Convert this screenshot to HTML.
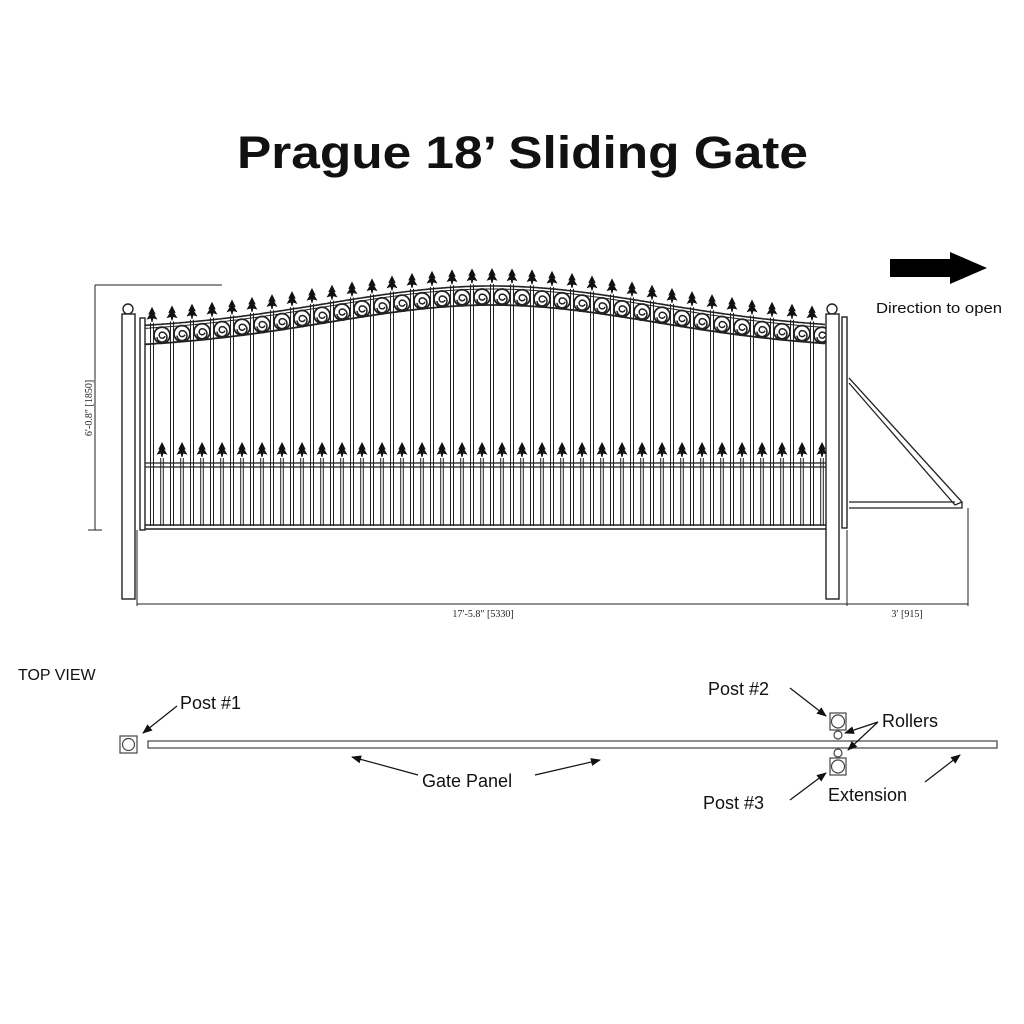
<!DOCTYPE html>
<html><head><meta charset="utf-8"><style>
html,body{margin:0;padding:0;background:#fff;width:1024px;height:1024px;overflow:hidden}
svg{display:block}
</style></head><body>
<svg id="s" width="1024" height="1024" viewBox="0 0 1024 1024" xmlns="http://www.w3.org/2000/svg">
<defs>
<marker id="ah" markerWidth="10" markerHeight="8" refX="9" refY="4" orient="auto" markerUnits="userSpaceOnUse">
<path d="M0,0 L10,4 L0,8 Z" fill="#111"/></marker>
</defs>
<text x="237" y="168" textLength="571" lengthAdjust="spacingAndGlyphs" font-family="Liberation Sans, sans-serif" font-weight="bold" font-size="45" fill="#111">Prague 18’ Sliding Gate</text>
<!-- arrow -->
<path d="M890,259 L950,259 L950,252 L987,268 L950,284 L950,277 L890,277 Z" fill="#000"/>
<text x="876" y="313" textLength="126" lengthAdjust="spacingAndGlyphs" font-family="Liberation Sans, sans-serif" font-size="14.5" fill="#111">Direction to open</text>
<g id="gate" stroke="#222" fill="none" stroke-width="1.3"></g>
<!-- posts -->
<g stroke="#222" fill="#fff" stroke-width="1.4">
<circle cx="128" cy="309" r="5"/>
<rect x="122" y="314" width="13" height="285"/>
<rect x="140" y="318" width="5" height="212"/>
<circle cx="832" cy="309" r="5"/>
<rect x="826" y="314" width="13" height="285"/>
<rect x="842" y="317" width="5" height="211"/>
</g>
<g stroke="#222" fill="none" stroke-width="1.3">
<path d="M849,378 L962,502 L955,505 L849,383"/>
<path d="M849,502 L955,502 M849,508 L962,508 L962,502"/>
<path d="M95,285 L222,285 M95,285 L95,530 M88,530 L102,530" stroke-width="1"/>
<path d="M137,530 L137,606 M137,604 L968,604 M847,530 L847,606 M968,508 L968,606" stroke-width="1"/>
</g>
<text transform="translate(92,408) rotate(-90)" text-anchor="middle" font-family="Liberation Serif, serif" font-size="10" fill="#222">6′-0.8″ [1850]</text>
<text x="483" y="617" text-anchor="middle" font-family="Liberation Serif, serif" font-size="10" fill="#222">17′-5.8″ [5330]</text>
<text x="907" y="617" text-anchor="middle" font-family="Liberation Serif, serif" font-size="10" fill="#222">3′ [915]</text>
<!-- top view -->
<g font-family="Liberation Sans, DejaVu Sans, sans-serif" font-size="18" fill="#111">
<text x="18" y="680" font-size="16">TOP  VIEW</text>
<text x="180" y="709">Post #1</text>
<text x="422" y="787">Gate Panel</text>
<text x="708" y="695">Post #2</text>
<text x="882" y="727">Rollers</text>
<text x="703" y="809">Post #3</text>
<text x="828" y="801">Extension</text>
</g>
<g stroke="#444" fill="#fff" stroke-width="1.2">
<rect x="120" y="736" width="17" height="17"/><circle cx="128.5" cy="744.5" r="6"/>
<rect x="148" y="741" width="849" height="7"/>
<rect x="830" y="713" width="16" height="17"/><circle cx="838" cy="721.5" r="6.5"/>
<circle cx="838" cy="735" r="4"/><circle cx="838" cy="753" r="4"/>
<rect x="830" y="758" width="16" height="17"/><circle cx="838" cy="766.5" r="6.5"/>
</g>
<g stroke="#111" stroke-width="1.2" marker-end="url(#ah)">
<line x1="177" y1="706" x2="143" y2="733"/>
<line x1="418" y1="775" x2="352" y2="757"/>
<line x1="535" y1="775" x2="600" y2="760"/>
<line x1="790" y1="688" x2="826" y2="716"/>
<line x1="878" y1="722" x2="845" y2="733"/>
<line x1="878" y1="722" x2="848" y2="750"/>
<line x1="790" y1="800" x2="826" y2="773"/>
<line x1="925" y1="782" x2="960" y2="755"/>
</g>
</svg>
<script>
(function(){
var g=document.getElementById('gate');var NS='http://www.w3.org/2000/svg';
function el(t,a,p){var e=document.createElementNS(NS,t);for(var k in a)e.setAttribute(k,a[k]);(p||g).appendChild(e);return e;}
function yu(x){return 330-44*Math.exp(-Math.pow((x-492)/232,2));}
var d1='',d2='',d3='';
for(var x=145;x<=826;x+=2){var y=yu(x);d1+=(x==145?'M':'L')+x+','+y.toFixed(1);d2+=(x==145?'M':'L')+x+','+(y+3).toFixed(1);d3+=(x==145?'M':'L')+x+','+(y+19).toFixed(1);}
el('path',{d:d1,'stroke-width':1.6});el('path',{d:d2,'stroke-width':1});el('path',{d:d3,'stroke-width':1.8});
el('path',{d:'M145,463 L826,463 M145,467 L826,467','stroke-width':1.2});
el('path',{d:'M145,525 L826,525 M145,529 L826,529','stroke-width':1.6});
function finial(x,y){
 el('path',{d:'M'+x+','+y+' L'+(x+3)+','+(y+6)+' L'+(x+1.5)+','+(y+6)+' L'+(x+4.5)+','+(y+11)+' L'+(x+1)+','+(y+10)+' L'+x+','+(y+14)+' L'+(x-1)+','+(y+10)+' L'+(x-4.5)+','+(y+11)+' L'+(x-1.5)+','+(y+6)+' L'+(x-3)+','+(y+6)+' Z',fill:'#111',stroke:'#111','stroke-width':0.9});
}
for(var i=0;i<34;i++){var x=152+20*i;var y=yu(x);
 el('path',{d:'M'+(x-1.5)+','+(y-2)+' L'+(x-1.5)+',526 M'+(x+1.5)+','+(y-2)+' L'+(x+1.5)+',526','stroke-width':1});
 finial(x,y-17);
}
for(var i=0;i<34;i++){var x=162+20*i;if(x>822)break;var y=yu(x);
 var cy=y+11;
 el('circle',{cx:x,cy:cy,r:8,'stroke-width':1.8});
 el('path',{d:'M'+(x+3)+','+(cy+1)+' A3,3 0 1,1 '+x+','+(cy-3)+' A5,5 0 1,1 '+(x-5)+','+(cy+2),'stroke-width':1.5});
 el('path',{d:'M'+(x-1.3)+',458 L'+(x-1.3)+',526 M'+(x+1.3)+',458 L'+(x+1.3)+',526','stroke-width':1});
 finial(x,443);
}
})();
</script>
</body></html>
